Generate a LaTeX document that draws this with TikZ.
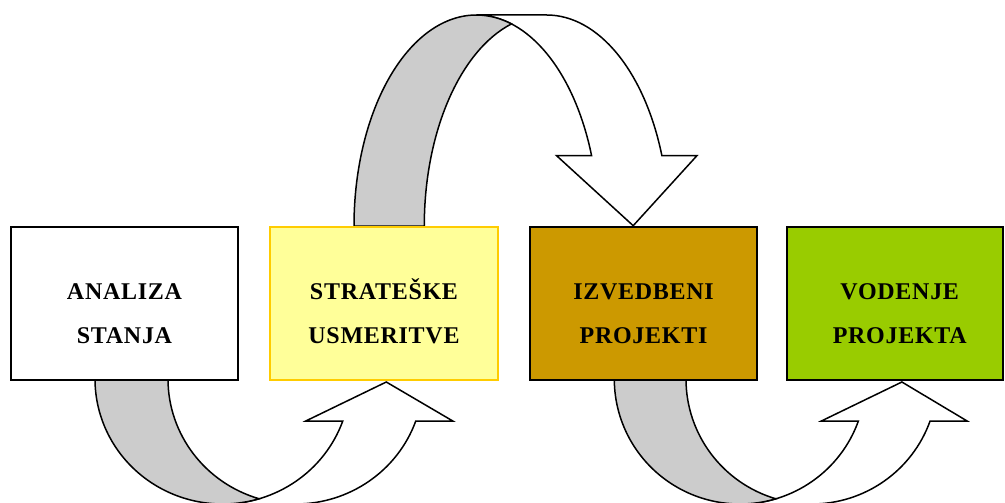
\documentclass[tikz,border=0pt]{standalone}
\usepackage{fontspec}
\setmainfont{Liberation Serif}
\newfontfamily\stagefont[LetterSpace=3]{Liberation Serif}
\usepackage{tikz}
\usetikzlibrary{positioning}

\definecolor{paleyellow}{HTML}{FFFF99}
\definecolor{goldline}{HTML}{FFCC00}
\definecolor{ochre}{HTML}{CC9900}
\definecolor{lime}{HTML}{99CC00}
\definecolor{backside}{HTML}{CCCCCC}

\begin{document}
\begin{tikzpicture}[
    x=1pt, y=-1pt,
    node distance=1cm and 30pt,
    stage/.style={draw,line width=2pt,fill=white,minimum width=227.5pt,minimum height=153pt,inner sep=0pt},
    stagetext/.style={anchor=base,align=center,font=\stagefont\fontsize{24}{44}\selectfont\bfseries},
    band/.style={draw,line width=1.5pt,fill=white},
    bandback/.style={band,fill=backside}
    ]
    \useasboundingbox (0,0) rectangle (1005,503);

    % arrows under the boxes
    \foreach \L/\w/\rx in {95/73/127.6, 614.3/71.7/125.7}{
      \pgfmathsetmacro\ta{asin(42/125)}
      \pgfmathsetmacro\tm{acos(\w/2/\rx)}
      \pgfmathsetmacro\xin{\L+\rx+\rx*cos(\ta)}
      \draw[band] (\xin,421) arc[start angle=\ta,end angle=90,x radius=\rx,y radius=125]
        -- ++(\w,0) arc[start angle=90,end angle=\ta,x radius=\rx,y radius=125]
        -- (\xin+\w+37,421) -- (\xin+43.5,382) -- (\xin-37,421) -- cycle;
      \draw[bandback] (\L,379) arc[start angle=180,end angle=\tm,x radius=\rx,y radius=125]
        arc[start angle=180-\tm,end angle=180,x radius=\rx,y radius=125] -- cycle;
    }

    % arrow over the top
    \draw[band] (591.6,155.7) arc[start angle=340.54,end angle=270,x radius=122.3,y radius=211]
      -- ++(70.3,0) arc[start angle=270,end angle=340.54,x radius=122.3,y radius=211]
      -- (696.9,155.7) -- (633.2,225.7) -- (556.6,155.7) -- cycle;
    \draw[bandback] (354,226) arc[start angle=180,end angle=286.7,x radius=122.3,y radius=211]
      arc[start angle=253.3,end angle=180,x radius=122.3,y radius=211] -- cycle;

    \node[stage] (analiza) at (124.5,303.3) {};
    \node[stage,right=of analiza,draw=goldline,fill=paleyellow] (usmeritve) {};
    \node[stage,right=of usmeritve,fill=ochre] (projekti) {};
    \node[stage,right=28pt of projekti,fill=lime,minimum width=216pt] (vodenje) {};

    \node[stagetext] (analizatext) at ([yshift=-40pt]analiza.center) {ANALIZA\\STANJA};
    \node[stagetext] (usmeritvetext) at ([yshift=-40pt]usmeritve.center) {STRATEŠKE\\USMERITVE};
    \node[stagetext] (projektitext) at ([yshift=-40pt]projekti.center) {IZVEDBENI\\PROJEKTI};
    \node[stagetext] (vodenjetext) at ([xshift=4.5pt,yshift=-40pt]vodenje.center) {VODENJE\\PROJEKTA};
\end{tikzpicture}
\end{document}
